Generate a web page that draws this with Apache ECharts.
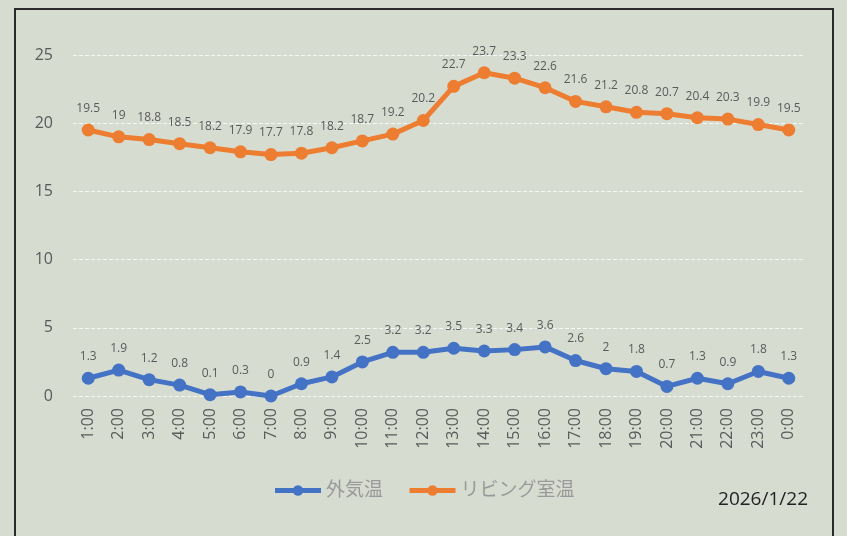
<!DOCTYPE html>
<html>
<head>
<meta charset="utf-8">
<script src="https://cdn.jsdelivr.net/npm/echarts@6/dist/echarts.min.js"></script>
<style>
  html, body { margin: 0; padding: 0; background: #d7dcd1; }
  #main { width: 847px; height: 536px; }
</style>
</head>
<body>
<div id="main"></div>
<script>
// 時刻
const hours = ['1:00', '2:00', '3:00', '4:00', '5:00', '6:00', '7:00', '8:00', '9:00', '10:00', '11:00', '12:00',
  '13:00', '14:00', '15:00', '16:00', '17:00', '18:00', '19:00', '20:00', '21:00', '22:00', '23:00', '0:00'];
// 外気温
const outsideTemp = [1.3, 1.9, 1.2, 0.8, 0.1, 0.3, 0, 0.9, 1.4, 2.5, 3.2, 3.2, 3.5, 3.3, 3.4, 3.6, 2.6, 2, 1.8, 0.7, 1.3, 0.9, 1.8, 1.3];
// リビング室温
const livingTemp = [19.5, 19, 18.8, 18.5, 18.2, 17.9, 17.7, 17.8, 18.2, 18.7, 19.2, 20.2, 22.7, 23.7, 23.3, 22.6, 21.6, 21.2, 20.8, 20.7, 20.4, 20.3, 19.9, 19.5];
const seriesNames = ['外気温', 'リビング室温'];
const dateText = '2026/1/22';

const font = '"Open Sans", "Noto Sans CJK JP", sans-serif';
const chart = echarts.init(document.getElementById('main'));

function lineSeries(name, data, color) {
  return {
    name: name,
    type: 'line',
    data: data,
    symbol: 'circle',
    symbolSize: 13,
    lineStyle: { width: 5, color: color },
    itemStyle: { color: color },
    label: {
      show: true,
      position: 'top',
      distance: 9,
      color: '#5a5a5a',
      fontSize: 12,
      fontFamily: font
    }
  };
}

chart.setOption({
  backgroundColor: '#d7dcd1',
  animation: false,
  title: {
    text: dateText,
    right: 34,
    top: 485,
    textStyle: { color: '#222', fontSize: 19, fontWeight: 'normal', fontFamily: font }
  },
  legend: {
    data: seriesNames,
    left: 'center',
    top: 476,
    itemWidth: 46,
    itemHeight: 13,
    itemGap: 24,
    lineStyle: { width: 5 },
    textStyle: { color: '#9a9a9a', fontSize: 19, fontFamily: font }
  },
  grid: { left: 73, right: 43, top: 55, bottom: 140 },
  xAxis: {
    type: 'category',
    data: hours,
    boundaryGap: true,
    axisLine: { show: false },
    axisTick: { show: false },
    axisLabel: { rotate: 90, color: '#5a5a5a', fontSize: 16, margin: 12, fontFamily: font }
  },
  yAxis: {
    type: 'value',
    min: 0,
    max: 25,
    interval: 5,
    axisLine: { show: false },
    axisTick: { show: false },
    axisLabel: { color: '#5a5a5a', fontSize: 16, margin: 20, fontFamily: font },
    splitLine: { lineStyle: { color: 'rgba(255,255,255,0.8)', type: 'dashed', width: 1 } }
  },
  graphic: [{
    type: 'rect',
    shape: { x: 15, y: 9, width: 818, height: 535 },
    style: { fill: 'none', stroke: '#2a2a2a', lineWidth: 2 },
    silent: true
  }],
  series: [
    lineSeries(seriesNames[0], outsideTemp, '#4472c4'),
    lineSeries(seriesNames[1], livingTemp, '#ed7d31')
  ]
});
</script>
</body>
</html>
